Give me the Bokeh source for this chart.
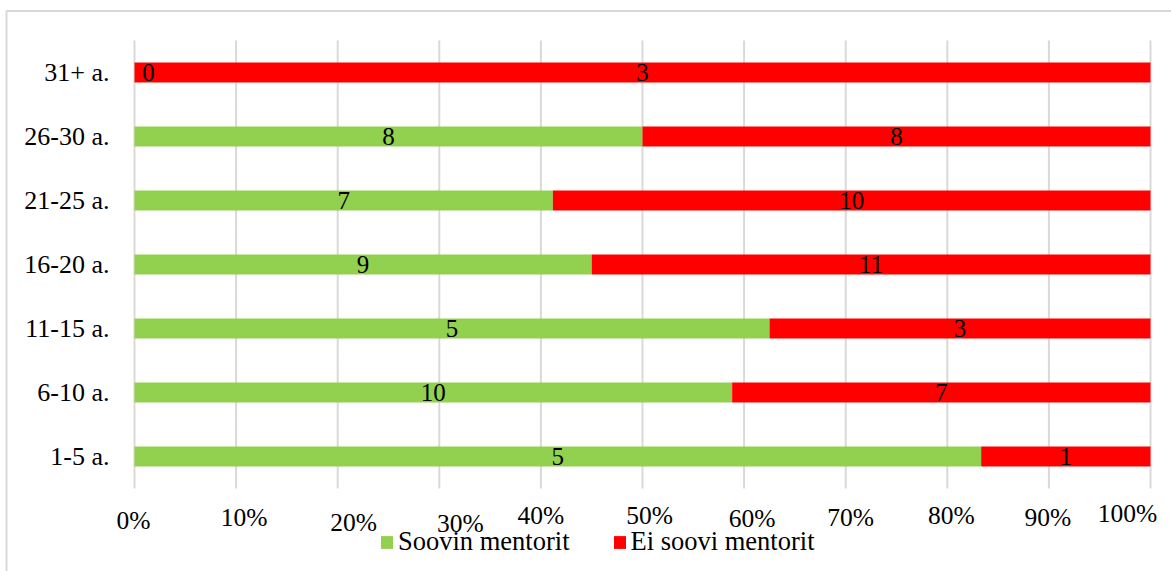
from bokeh.plotting import figure
from bokeh.models import ColumnDataSource, Legend, LegendItem, Range1d
from bokeh.core.properties import value
from bokeh.embed import file_html
from bokeh.resources import INLINE

# Work experience groups and answers to the mentoring question
categories = ["1-5 a.", "6-10 a.", "11-15 a.", "16-20 a.", "21-25 a.", "26-30 a.", "31+ a."]
soovin = [5, 10, 5, 9, 7, 8, 0]
ei_soovi = [1, 7, 3, 11, 10, 8, 3]
series_names = ["Soovin mentorit", "Ei soovi mentorit"]
tick_values = [0, 10, 20, 30, 40, 50, 60, 70, 80, 90, 100]
tick_labels = ["0%", "10%", "20%", "30%", "40%", "50%", "60%", "70%", "80%", "90%", "100%"]

GREEN = "#92d050"
RED = "#ff0000"
GRID = "#d9d9d9"
FONT = value("Liberation Serif")

W, H = 1171, 571
# plot area layout in pixels: 0% .. 100% horizontally, one 64px band per group
LEFT_PX, RIGHT_PX = 134, 1150
BAND_PX = 64
BOTTOM_PX = 488
PX_PER_PCT = (RIGHT_PX - LEFT_PX) / 100.0


def px2x(px):
    return (px - LEFT_PX) / PX_PER_PCT


def px2y(py):
    # group index 0 sits in the lowest band
    return (BOTTOM_PX - BAND_PX / 2.0 - py) / BAND_PX


totals = [a + b for a, b in zip(soovin, ei_soovi)]
yes_pct = [100.0 * a / t for a, t in zip(soovin, totals)]
no_pct = [100.0 * b / t for b, t in zip(ei_soovi, totals)]
idx = list(range(len(categories)))

src = ColumnDataSource(dict(i=idx, cat=categories, yes=yes_pct, no=no_pct))

p = figure(width=W, height=H,
           x_range=Range1d(px2x(0), px2x(W)), y_range=Range1d(px2y(H), px2y(0)),
           output_backend="svg", toolbar_location=None, min_border=0)
p.xaxis.visible = False
p.yaxis.visible = False
p.grid.visible = False
p.outline_line_color = None
p.background_fill_color = "white"
p.border_fill_color = "white"

# outer chart frame (top and left edges)
p.line(x=[px2x(6), px2x(6), px2x(W + 50)], y=[px2y(H + 50), px2y(10.5), px2y(10.5)],
       line_color=GRID, line_width=2)

# vertical gridlines across the plot area
lo, hi = -0.5, len(categories) - 0.5
p.segment(x0=tick_values, x1=tick_values, y0=[lo] * len(tick_values),
          y1=[hi] * len(tick_values), line_color=GRID, line_width=2)

bars = p.hbar_stack(["yes", "no"], y="i", height=0.31, color=[GREEN, RED],
                    line_color=None, source=src)

# group labels left of the bars
p.text(x=[0] * len(categories), y=idx, text=categories, x_offset=-25,
       text_align="right", text_baseline="middle", text_font=FONT,
       text_font_size="26px", text_color="black")

# value labels in the middle of each segment
lab_x, lab_y, lab_t, lab_off = [], [], [], []
for i, a, b, pa, pb in zip(idx, soovin, ei_soovi, yes_pct, no_pct):
    lab_x += [pa / 2.0, pa + pb / 2.0]
    lab_y += [i, i]
    lab_t += [str(a), str(b)]
    lab_off += [14 if a == 0 else 0, 14 if b == 0 else 0]
p.text(x=lab_x, y=lab_y, text=lab_t, x_offset=lab_off, text_align="center",
       text_baseline="middle", text_font=FONT, text_font_size="25px",
       text_color="black")

# percentage labels under the plot area
tick_dx = [-1, 8, 16, 21, 0, 7, 8, 5, 4, -1, -23]
tick_base_px = [520, 517, 522, 523, 515, 515, 518, 517, 515, 517, 513]
p.text(x=tick_values, y=[px2y(b) for b in tick_base_px], text=tick_labels,
       x_offset=tick_dx, text_align="center", text_baseline="alphabetic",
       text_font=FONT, text_font_size="25.5px", text_color="black")

# legend under the chart
legend = Legend(items=[LegendItem(label=series_names[0], renderers=[bars[0]]),
                       LegendItem(label=series_names[1], renderers=[bars[1]])],
                orientation="horizontal", location=(379, H - 557),
                glyph_width=15, glyph_height=16, label_standoff=4, spacing=42,
                padding=0, margin=0, border_line_color=None,
                background_fill_alpha=0,
                label_text_font="Liberation Serif", label_text_font_size="26.5px",
                label_text_color="black")
p.add_layout(legend, "center")

open("out.html", "w").write(file_html(p, INLINE))
